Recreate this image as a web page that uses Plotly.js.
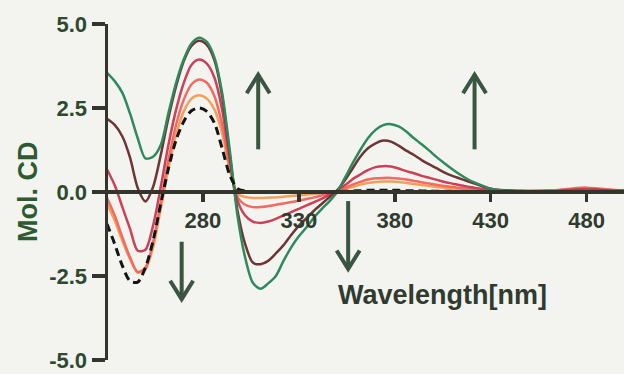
<!DOCTYPE html>
<html>
<head>
<meta charset="utf-8">
<script src="https://cdn.plot.ly/plotly-3.0.1.min.js"></script>
<style>
  html, body { margin: 0; padding: 0; background: #f3f3f0; }
  #chart { width: 624px; height: 374px; }
</style>
</head>
<body>
<div id="chart"></div>
<script>
// Wavelengths (nm)
const wavelength = [230,234,238,242,246,250,254,258,262,266,270,274,278,282,286,290,294,298,302,306,310,314,318,322,326,330,334,338,342,346,350,354,358,362,366,370,374,378,382,386,390,394,398,402,406,410,414,418,422,426,430,435,440,445,450,455,460,465,470,475,480,485,490,495,500];

// Mol. CD series
const cdGreen = [3.55,3.30,2.95,2.33,1.60,1.00,1.05,1.40,2.35,3.25,3.95,4.42,4.59,4.47,4.00,2.95,1.23,-0.70,-1.95,-2.70,-2.88,-2.72,-2.50,-2.05,-1.65,-1.32,-1.05,-0.75,-0.50,-0.27,0.00,0.42,0.85,1.25,1.60,1.85,1.99,2.02,1.95,1.80,1.60,1.42,1.23,1.03,0.85,0.68,0.52,0.38,0.27,0.18,0.10,0.05,0.03,0.02,0.02,0.02,0.02,0.02,0.03,0.04,0.05,0.04,0.03,0.02,0.02];
const cdBrown = [2.18,2.00,1.65,1.02,0.12,-0.28,0.15,1.10,2.20,3.15,3.90,4.35,4.50,4.38,3.92,2.85,1.10,-0.55,-1.55,-2.10,-2.15,-2.05,-1.83,-1.58,-1.28,-1.00,-0.78,-0.55,-0.35,-0.15,0.05,0.35,0.70,1.05,1.30,1.45,1.53,1.50,1.38,1.23,1.10,0.95,0.82,0.70,0.58,0.48,0.40,0.32,0.24,0.16,0.10,0.06,0.04,0.03,0.02,0.02,0.02,0.02,0.03,0.04,0.05,0.04,0.03,0.02,0.02];
const cdCrimson = [0.67,0.20,-0.45,-1.10,-1.75,-1.72,-1.00,0.15,1.40,2.45,3.25,3.78,3.94,3.82,3.40,2.45,0.95,-0.25,-0.70,-0.88,-0.92,-0.88,-0.80,-0.70,-0.60,-0.50,-0.40,-0.30,-0.20,-0.08,0.05,0.20,0.38,0.52,0.65,0.74,0.77,0.76,0.70,0.62,0.56,0.48,0.42,0.36,0.30,0.25,0.20,0.16,0.12,0.09,0.06,0.05,0.04,0.03,0.03,0.03,0.03,0.04,0.06,0.08,0.09,0.08,0.06,0.05,0.05];
const cdSalmon = [-0.18,-0.70,-1.35,-1.95,-2.38,-2.25,-1.50,-0.30,0.95,2.00,2.75,3.20,3.35,3.25,2.85,2.00,0.75,-0.15,-0.38,-0.45,-0.45,-0.42,-0.38,-0.34,-0.30,-0.26,-0.21,-0.16,-0.10,-0.04,0.03,0.12,0.22,0.30,0.37,0.41,0.42,0.42,0.40,0.37,0.33,0.29,0.25,0.21,0.18,0.15,0.12,0.10,0.08,0.06,0.05,0.04,0.04,0.03,0.03,0.04,0.05,0.06,0.09,0.12,0.13,0.11,0.08,0.06,0.05];
const cdOrange = [-0.35,-0.85,-1.45,-2.00,-2.40,-2.30,-1.65,-0.50,0.70,1.70,2.40,2.78,2.88,2.78,2.45,1.75,0.65,-0.05,-0.15,-0.18,-0.18,-0.17,-0.16,-0.14,-0.12,-0.10,-0.08,-0.06,-0.04,-0.02,0.02,0.08,0.15,0.22,0.27,0.30,0.31,0.31,0.30,0.27,0.24,0.21,0.18,0.15,0.13,0.11,0.09,0.07,0.06,0.05,0.04,0.03,0.03,0.03,0.03,0.03,0.04,0.05,0.07,0.09,0.10,0.09,0.07,0.05,0.04];
const cdDashed = [-0.95,-1.55,-2.20,-2.65,-2.68,-2.25,-1.45,-0.35,0.70,1.55,2.10,2.42,2.50,2.40,2.05,1.30,0.50,0.10,0.03,0.00,-0.01,-0.01,-0.01,0.00,0.00,0.00,0.00,0.00,0.00,0.00,0.01,0.02,0.03,0.04,0.05,0.05,0.05,0.05,0.05,0.04,0.04,0.03,0.03,0.02,0.02,0.02,0.01,0.01,0.01,0.01,0.01,0.01,0.01,0.01,0.01,0.01,0.01,0.01,0.01,0.01,0.01,0.01,0.01,0.01,0.01];

const xTicks = [280,330,380,430,480];
const yTicks = [-5,-2.5,0,2.5,5];
const yTickText = ['-5.0','-2.5','0.0','2.5','5.0'];

// Arrow annotations: x (nm), tail and head (Mol. CD)
const arrows = [
  {x: 268.9, tail: -1.48, head: -3.19},
  {x: 308.8, tail: 1.27, head: 3.49},
  {x: 355.7, tail: -0.27, head: -2.29},
  {x: 421.6, tail: 1.27, head: 3.49}
];

const textGreen = '#2d4a30';
const axisColor = '#33352c';

function line(y, color, dash) {
  return {
    x: wavelength, y: y, type: 'scatter', mode: 'lines',
    line: {color: color, width: 2.5, shape: 'spline', smoothing: 0.8, dash: dash || 'solid'},
    hoverinfo: 'skip', showlegend: false
  };
}

const traces = [
  line(cdOrange, '#f2a05a'),
  line(cdSalmon, '#f46a60'),
  line(cdCrimson, '#cc4058'),
  line(cdBrown, '#6e3535'),
  line(cdGreen, '#2e8a5c'),
  line(cdDashed, '#141414', '8px,5px')
];
traces[5].line.width = 3;

const arrowColor = '#3a5540';
const shapes = [];
arrows.forEach(a => {
  const dir = a.head > a.tail ? 1 : -1;
  shapes.push({type: 'line', xref: 'x', yref: 'y', x0: a.x, x1: a.x, y0: a.tail, y1: a.head,
    line: {color: arrowColor, width: 4}});
  shapes.push({type: 'path', xref: 'x', yref: 'y',
    path: `M ${a.x - 6} ${a.head - dir * 0.55} L ${a.x} ${a.head} L ${a.x + 6} ${a.head - dir * 0.55}`,
    line: {color: arrowColor, width: 4}});
});

const layout = {
  width: 624, height: 374,
  paper_bgcolor: '#f3f3f0', plot_bgcolor: 'rgba(0,0,0,0)',
  margin: {l: 108, r: 0, t: 24, b: 14, pad: 0},
  showlegend: false,
  font: {family: 'Liberation Sans, Arial, sans-serif', color: textGreen},
  xaxis: {
    range: [230.5, 499.5], anchor: 'free', position: 0.5,
    showline: true, linecolor: axisColor, linewidth: 4,
    ticks: 'outside', ticklen: 8, tickwidth: 3.5, tickcolor: axisColor,
    tickvals: xTicks, ticktext: xTicks.map(String),
    tickfont: {size: 22, weight: 'bold', color: '#2f3b2f', family: 'Liberation Sans, Arial, sans-serif'},
    showgrid: false, zeroline: false
  },
  yaxis: {
    range: [-5, 5],
    showline: true, linecolor: axisColor, linewidth: 3.5,
    ticks: 'outside', ticklen: 13, tickwidth: 3.5, tickcolor: axisColor,
    tickvals: yTicks, ticktext: yTickText,
    tickfont: {size: 22, weight: 'bold', color: textGreen, family: 'Liberation Sans, Arial, sans-serif'},
    showgrid: false, zeroline: false
  },
  shapes: shapes,
  annotations: [
    {text: 'Mol. CD', xref: 'paper', yref: 'paper', x: -0.155, y: 0.5,
     xanchor: 'center', yanchor: 'middle', textangle: -90, showarrow: false,
     font: {size: 27, weight: 'bold', color: '#2e5a32', family: 'Liberation Sans, Arial, sans-serif'}},
    {text: 'Wavelength[nm]', xref: 'x', yref: 'y', x: 405, y: -3.07,
     xanchor: 'center', yanchor: 'middle', showarrow: false,
     font: {size: 27, weight: 'bold', color: '#2f3b2f', family: 'Liberation Sans, Arial, sans-serif'}}
  ]
};

Plotly.newPlot('chart', traces, layout, {displayModeBar: false, staticPlot: true});
</script>
</body>
</html>
